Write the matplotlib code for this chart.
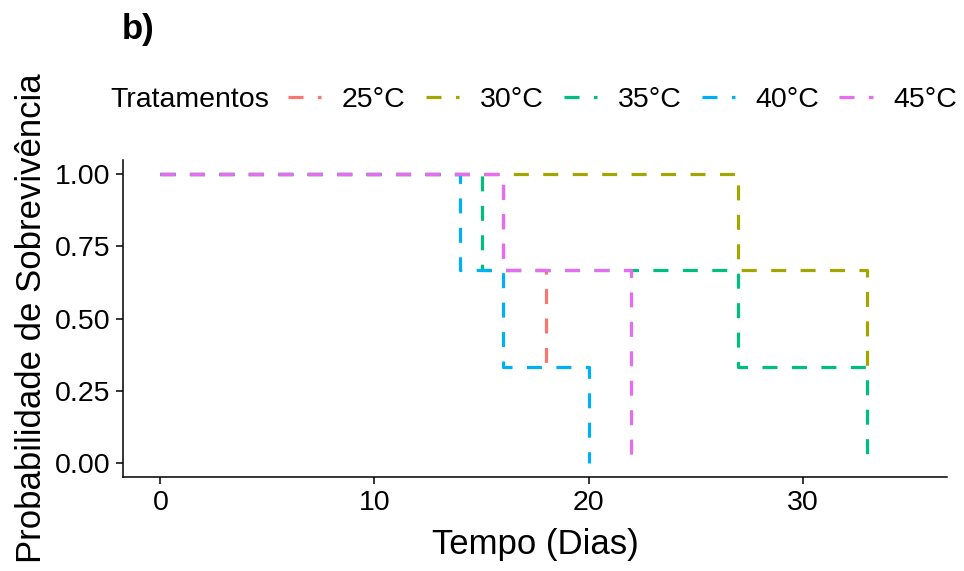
import matplotlib
matplotlib.use("Agg")
import matplotlib.pyplot as plt

plt.rcParams['font.family'] = ['Liberation Sans', 'DejaVu Sans']
plt.rcParams['lines.scale_dashes'] = False

labels = ["25°C", "30°C", "35°C", "40°C", "45°C"]
colors = ["#F8766D", "#A3A500", "#00BF7D", "#00B0F6", "#E76BF3"]
times = [
    [0, 16, 18],
    [0, 27, 33],
    [0, 15, 27, 33],
    [0, 14, 16, 20],
    [0, 16, 22],
]
surv = [
    [1.0, 0.667, 0.333],
    [1.0, 0.667, 0.333],
    [1.0, 0.667, 0.333, 0.0],
    [1.0, 0.667, 0.333, 0.0],
    [1.0, 0.667, 0.0],
]
xticks = [0, 10, 20, 30]
yticks = [0.0, 0.25, 0.5, 0.75, 1.0]
ytick_labels = ["0.00", "0.25", "0.50", "0.75", "1.00"]

fig = plt.figure(figsize=(9.64, 5.71), dpi=100)
ax = fig.add_axes([0.1276, 0.1646, 0.8548, 0.5552])

dash = (0, (10.8, 10.4))
handles = []
for t, s, c, lab in zip(times, surv, colors, labels):
    ln, = ax.step(t, s, where='post', color=c, lw=2.3, linestyle=dash,
                  dash_capstyle='butt', label=lab)
    handles.append(ln)

ax.set_xlim(-1.75, 36.75)
ax.set_ylim(-0.05, 1.05)
ax.set_xticks(xticks)
ax.set_yticks(yticks)
ax.set_yticklabels(ytick_labels)
for sp in ['top', 'right']:
    ax.spines[sp].set_visible(False)
for sp in ['left', 'bottom']:
    ax.spines[sp].set_linewidth(1.1)
ax.tick_params(axis='both', labelsize=20.5, length=5, width=1.1, color='black',
               labelcolor='black', pad=4)
ax.set_xlabel("Tempo (Dias)", fontsize=25, labelpad=9)
ax.set_ylabel("Probabilidade de Sobrevivência", fontsize=25, labelpad=5)

fig.text(110/964, 1-100/571, "Tratamentos", fontsize=20.5, ha='left', va='center',
         color='black')
leg = fig.legend(handles=handles, labels=labels, loc='center left',
                 bbox_to_anchor=(288/964, 1-100/571), ncol=5, frameon=False,
                 fontsize=20.5, handlelength=1.16, handletextpad=0.74,
                 columnspacing=0.7, borderpad=0, borderaxespad=0)
for txt in leg.get_texts():
    txt.set_color('black')

fig.text(122/964, 1-30/571, "b)", fontsize=25, fontweight='bold', ha='left',
         va='center')

fig.savefig("out.png", dpi=100)
